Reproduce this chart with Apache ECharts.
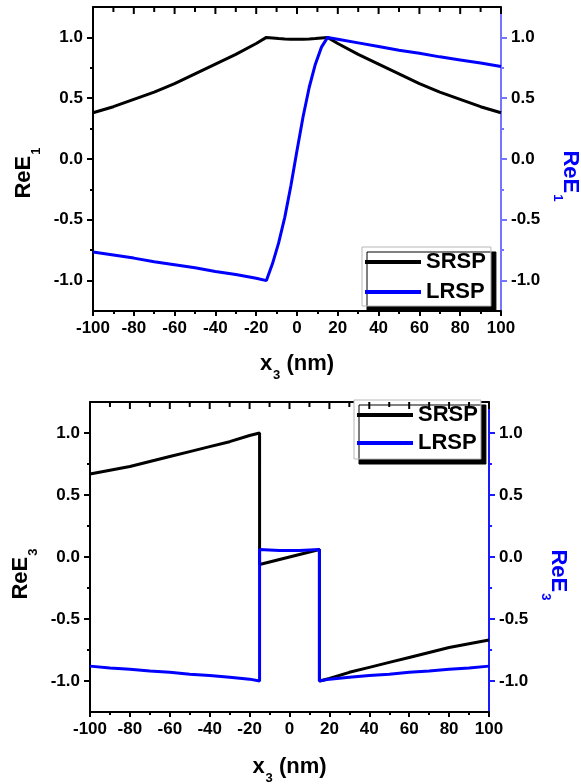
<!DOCTYPE html>
<html>
<head>
<meta charset="utf-8">
<script src="https://cdn.jsdelivr.net/npm/echarts@6/dist/echarts.min.js"></script>
<style>
html,body{margin:0;padding:0;background:#fff;}
#chart{width:581px;height:784px;}
</style>
</head>
<body>
<div id="chart"></div>
<script>
// ---- Data ----
// Top panel: ReE1 vs x3 (nm)
const xE1 = [-100,-90,-80,-70,-60,-50,-40,-30,-20,-15,-12,-9,-6,-3,0,3,6,9,12,15,20,30,40,50,60,70,80,90,100];
const srspE1 = [0.38,0.43,0.49,0.55,0.62,0.70,0.78,0.86,0.95,1.00,0.995,0.99,0.987,0.985,0.985,0.985,0.987,0.99,0.995,1.00,0.95,0.86,0.78,0.70,0.62,0.55,0.49,0.43,0.38];
const lrspE1 = [-0.765,-0.79,-0.815,-0.845,-0.87,-0.895,-0.925,-0.95,-0.98,-1.00,-0.86,-0.69,-0.48,-0.22,0.07,0.35,0.59,0.78,0.92,1.00,0.985,0.955,0.925,0.895,0.87,0.84,0.815,0.79,0.76];
// Bottom panel: ReE3 vs x3 (nm)
const xE3 = [-100,-90,-80,-70,-60,-50,-40,-30,-20,-15,-15,-5,5,15,15,20,30,40,50,60,70,80,90,100];
const srspE3 = [0.67,0.70,0.73,0.77,0.81,0.85,0.89,0.93,0.98,1.00,-0.06,-0.02,0.02,0.06,-1.00,-0.98,-0.93,-0.89,-0.85,-0.81,-0.77,-0.73,-0.70,-0.67];
const lrspE3 = [-0.88,-0.895,-0.905,-0.92,-0.93,-0.945,-0.955,-0.97,-0.985,-1.00,0.06,0.052,0.052,0.06,-1.00,-0.985,-0.97,-0.955,-0.945,-0.93,-0.92,-0.905,-0.895,-0.88];
const seriesNames = ['SRSP','LRSP'];
const xMajorTicks = [-100,-80,-60,-40,-20,0,20,40,60,80,100];
const xMinorTicks = [-90,-70,-50,-30,-10,10,30,50,70,90];
const yMajorTicks = [-1,-0.5,0,0.5,1];
const yMinorTicks = [-0.75,-0.25,0.25,0.75];
const yTop = 1.25;

const FONT = '"Liberation Sans", Arial, sans-serif';
const pairs = (xs, ys) => xs.map((x, i) => [x, ys[i]]);
const hiddenLabel = {show: true, formatter: () => '', color: 'rgba(0,0,0,0)'};

function richName(color, padding) {
  return {
    color: color,
    padding: padding || 0,
    rich: {
      b: {fontSize: 22, fontWeight: 'bold', fontFamily: FONT, color: color},
      s: {fontSize: 13, fontWeight: 'bold', fontFamily: FONT, color: color, verticalAlign: 'bottom', padding: [24, 0, 0, 1]}
    }
  };
}

function xAxes(gi, sub, gap) {
  const base = {gridIndex: gi, type: 'value', min: -100, max: 100, interval: 20, splitLine: {show: false}};
  return [Object.assign({}, base, {
    position: 'bottom',
    axisLine: {onZero: false, lineStyle: {color: '#000', width: 2}},
    axisTick: {show: true, length: 5, lineStyle: {color: '#000', width: 2}},
    minorTick: {show: true, splitNumber: 2, length: 3, lineStyle: {color: '#000', width: 2}},
    axisLabel: {margin: 9, color: '#000', fontSize: 17, fontWeight: 'bold', fontFamily: FONT},
    name: '{b|x}{s|' + sub + '}{b| (nm)}', nameLocation: 'middle', nameGap: gap,
    nameTextStyle: richName('#000')
  }), Object.assign({}, base, {
    position: 'top',
    axisLine: {show: true, onZero: false, lineStyle: {color: '#000', width: 2}},
    axisTick: {show: false},
    axisLabel: {show: false}
  })];
}

function yAxes(gi, sub, rightColor, lp, rp, lgap, rgap) {
  const base = {gridIndex: gi, type: 'value', min: -1.25, max: 1.25, interval: 0.25, splitLine: {show: false}};
  return [
    Object.assign({}, base, {
      position: 'left',
      axisLine: {onZero: false, lineStyle: {color: '#000', width: 2}},
      axisTick: {show: true, customValues: yMajorTicks, length: 6, lineStyle: {color: '#000', width: 2}},
      axisLabel: {customValues: yMajorTicks, formatter: v => v.toFixed(1), margin: 10, color: '#000', fontSize: 17, fontWeight: 'bold', fontFamily: FONT},
      name: '{b|ReE}{s|' + sub + '}', nameLocation: 'middle', nameRotate: 90, nameGap: lgap,
      nameTextStyle: richName('#000', lp)
    }),
    Object.assign({}, base, {
      position: 'left',
      axisLine: {show: false, onZero: false},
      axisTick: {show: true, customValues: yMinorTicks, length: 3, lineStyle: {color: '#000', width: 2}},
      axisLabel: Object.assign({customValues: yMinorTicks}, hiddenLabel)
    }),
    Object.assign({}, base, {
      position: 'right',
      axisLine: {onZero: false, lineStyle: {color: rightColor, width: 2}},
      axisTick: {show: true, customValues: yMajorTicks, length: 6, lineStyle: {color: rightColor, width: 2}},
      axisLabel: {customValues: yMajorTicks, formatter: v => v.toFixed(1), margin: 10, color: '#000', fontSize: 17, fontWeight: 'bold', fontFamily: FONT},
      name: '{b|ReE}{s|' + sub + '}', nameLocation: 'middle', nameRotate: -90, nameGap: rgap,
      nameTextStyle: richName('#0000ff', rp)
    }),
    Object.assign({}, base, {
      position: 'right',
      axisLine: {show: false, onZero: false},
      axisTick: {show: true, customValues: yMinorTicks, length: 3, lineStyle: {color: rightColor, width: 2}},
      axisLabel: Object.assign({customValues: yMinorTicks}, hiddenLabel)
    })
  ];
}

function legend(left, top, gap, pad) {
  return {
    data: seriesNames.map(n => ({name: n, icon: 'rect'})),
    orient: 'vertical', left: left, top: top, padding: pad,
    itemWidth: 56, itemHeight: 4, itemGap: gap,
    textStyle: {fontSize: 22, fontWeight: 'bold', fontFamily: FONT, color: '#000', lineHeight: 24},
    backgroundColor: '#fff', borderColor: '#b8b8b8', borderWidth: 1,
    shadowColor: '#000', shadowOffsetX: 5, shadowOffsetY: 5, shadowBlur: 0,
    selectedMode: false
  };
}

function line(name, xi, yi, data, color) {
  return {
    name: name, type: 'line', xAxisIndex: xi, yAxisIndex: yi, data: data,
    symbol: 'none', clip: true,
    lineStyle: {color: color, width: 3}, itemStyle: {color: color}
  };
}

// tick marks hanging down from the top frame edge; position comes from the x scale via api.coord
function topTicks(name, xi, yi, values, len) {
  return {
    name: name, type: 'custom', xAxisIndex: xi, yAxisIndex: yi, silent: true, clip: false, z: 10,
    data: values.map(v => [v, yTop]),
    renderItem: function (params, api) {
      const p = api.coord([api.value(0), api.value(1)]);
      return {
        type: 'line',
        shape: {x1: p[0], y1: p[1], x2: p[0], y2: p[1] + len},
        style: {stroke: '#000', lineWidth: 2}
      };
    }
  };
}

const chart = echarts.init(document.getElementById('chart'), null, {renderer: 'canvas'});
chart.setOption({
  animation: false,
  backgroundColor: '#fff',
  grid: [
    {left: 93, top: 7, width: 408, height: 304, outerBoundsMode: 'none', containLabel: false},
    {left: 90, top: 402, width: 399, height: 310, outerBoundsMode: 'none', containLabel: false}
  ],
  xAxis: [].concat(xAxes(0, '3', 34), xAxes(1, '3', 36)),
  yAxis: [].concat(
    yAxes(0, '1', '#7474ff', [0, 28, 0, 0], [0, 0, 0, 34], 48, 42),
    yAxes(1, '3', '#1a1aff', [0, 34, 0, 0], [0, 0, 0, 36], 49, 44)
  ),
  legend: [legend(362, 247, 6, [3, 5, 2, 3]), legend(354, 400, 4, [3, 3, 4, 3])],
  series: [
    line('SRSP', 0, 0, pairs(xE1, srspE1), '#000000'),
    line('LRSP', 0, 0, pairs(xE1, lrspE1), '#0000ff'),
    line('SRSP', 2, 4, pairs(xE3, srspE3), '#000000'),
    line('LRSP', 2, 4, pairs(xE3, lrspE3), '#0000ff'),
    topTicks('topMajor1', 0, 0, xMajorTicks, 7),
    topTicks('topMinor1', 0, 0, xMinorTicks, 5),
    topTicks('topMajor3', 2, 4, xMajorTicks, 7),
    topTicks('topMinor3', 2, 4, xMinorTicks, 5)
  ]
});
</script>
</body>
</html>
